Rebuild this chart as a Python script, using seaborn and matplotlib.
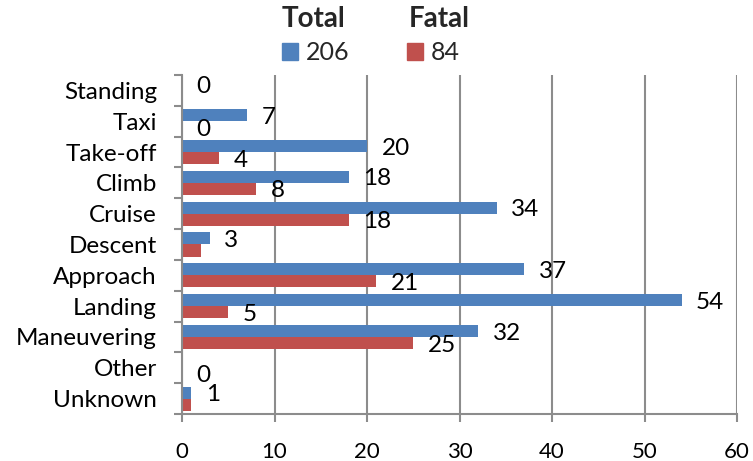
import matplotlib
matplotlib.use("Agg")
import matplotlib.pyplot as plt
import numpy as np
import pandas as pd
import seaborn as sns

# Flight phases and accident counts
phases = ["Standing", "Taxi", "Take-off", "Climb", "Cruise", "Descent",
          "Approach", "Landing", "Maneuvering", "Other", "Unknown"]
total = [0, 7, 20, 18, 34, 3, 37, 54, 32, 0, 1]
fatal = [0, 0, 4, 8, 18, 2, 21, 5, 25, 0, 1]
series_names = ["Total", "Fatal"]
# which bars carry a value label
show_total = [True, True, True, True, True, True, True, True, True, False, True]
show_fatal = [False, True, True, True, True, False, True, True, True, True, False]
x_ticks = [0, 10, 20, 30, 40, 50, 60]

colors = {"Total": "#4F81BD", "Fatal": "#C0504D"}
grid_col = "#8C8C8C"

df = pd.DataFrame({
    "phase": phases * 2,
    "count": total + fatal,
    "series": ["Total"] * len(phases) + ["Fatal"] * len(phases),
})

sns.set_theme(style="white")
plt.rcParams["font.family"] = ["Lato", "DejaVu Sans"]

fig = plt.figure(figsize=(7.53, 4.61), dpi=100)
ax = fig.add_axes([182 / 753, 1 - 414 / 461, (737 - 182) / 753, (414 - 75) / 461])

sns.barplot(data=df, y="phase", x="count", hue="series", order=phases,
            hue_order=series_names, palette=colors, orient="h",
            width=0.78, gap=0, saturation=1, ax=ax, legend=False,
            edgecolor="none")

ax.set_xlim(0, 60)
ax.set_ylim(len(phases) - 0.5, -0.5)
ax.set_xticks(x_ticks)
ax.set_xticklabels([str(t) for t in x_ticks])
ax.set_xlabel("")
ax.set_ylabel("")

# vertical gridlines
ax.grid(axis="x", color=grid_col, linewidth=1.5)
ax.grid(axis="y", visible=False)
ax.set_axisbelow(True)

for s in ["top", "right"]:
    ax.spines[s].set_visible(False)
for s in ["left", "bottom"]:
    ax.spines[s].set_color(grid_col)
    ax.spines[s].set_linewidth(1.5)

# category ticks sit at the boundaries, labels at the centres
ax.set_yticks(np.arange(len(phases)))
ax.set_yticklabels(phases)
ax.set_yticks(np.arange(-0.5, len(phases), 1.0), minor=True)
ax.tick_params(axis="y", which="major", length=0, pad=18, labelsize=17.5,
               labelcolor="black")
ax.tick_params(axis="y", which="minor", length=6, width=1.5, color=grid_col,
               left=True, direction="out")
ax.tick_params(axis="x", which="major", length=6, width=1.5, color=grid_col,
               bottom=True, direction="out", pad=14, labelsize=16,
               labelcolor="black")

# value labels placed at the end of each bar
for container, vals, show in zip(ax.containers, [total, fatal],
                                 [show_total, show_fatal]):
    for patch, v, sh in zip(container.patches, vals, show):
        if not sh:
            continue
        yc = patch.get_y() + patch.get_height() / 2
        ax.annotate(str(v), xy=(patch.get_x() + patch.get_width(), yc),
                    xytext=(10.5, -1.5), textcoords="offset points",
                    ha="left", va="center", fontsize=17.5, color="black",
                    clip_on=False)

# legend: series names as bold headers, series sums as entries
handles = [plt.Rectangle((0, 0), 1, 1, color=colors[n]) for n in series_names]
sums = [sum(total), sum(fatal)]
leg = fig.legend(handles, [str(s) for s in sums], ncol=2, loc="center",
                 bbox_to_anchor=(371 / 753, 1 - 53 / 461), frameon=False,
                 fontsize=18, handlelength=0.65, handleheight=0.65,
                 handletextpad=0.3, columnspacing=2.3, borderpad=0)
fig.text(313 / 753, 1 - 19 / 461, series_names[0], ha="center", va="center",
         fontsize=20, fontweight="bold")
fig.text(439 / 753, 1 - 19 / 461, series_names[1], ha="center", va="center",
         fontsize=20, fontweight="bold")

fig.savefig("out.png", dpi=100, facecolor="white")
